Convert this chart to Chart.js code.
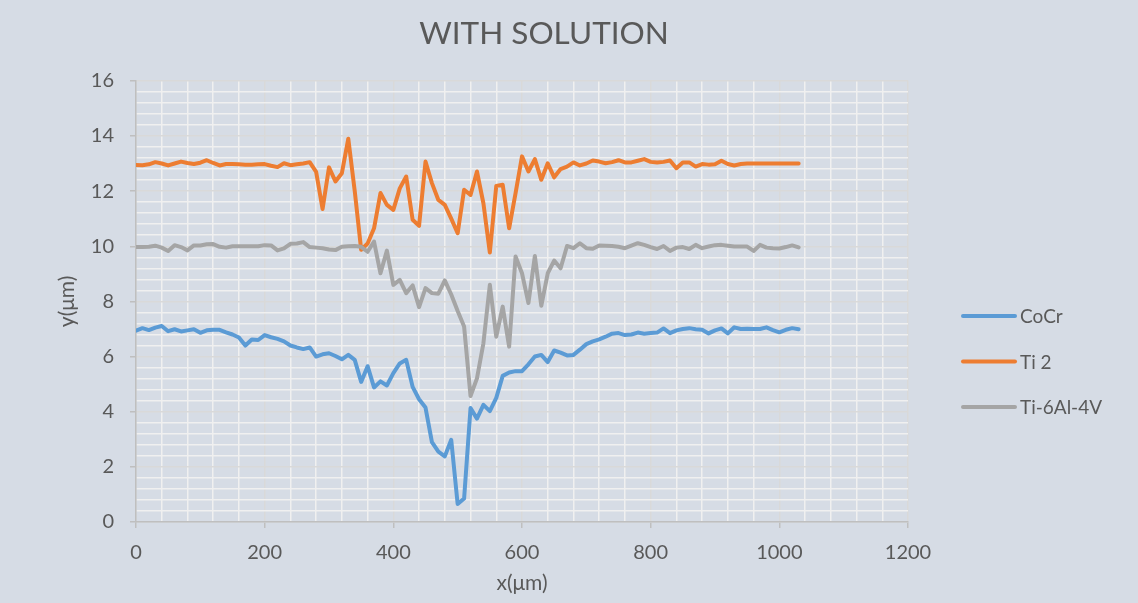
<!DOCTYPE html>
<html>
<head>
<meta charset="utf-8">
<script src="https://cdn.jsdelivr.net/npm/chart.js@4.4.1/dist/chart.umd.min.js"></script>
<style>
  html, body { margin: 0; padding: 0; background: #d6dce5; }
  #wrap { width: 1138px; height: 603px; }
</style>
</head>
<body>
<div id="wrap"><canvas id="profile" width="1138" height="603"></canvas></div>
<script>
// positions along the scan (µm)
const xPos = [0, 10, 20, 30, 40, 50, 60, 70, 80, 90, 100, 110, 120, 130, 140, 150, 160, 170, 180, 190,
  200, 210, 220, 230, 240, 250, 260, 270, 280, 290, 300, 310, 320, 330, 340, 350, 360, 370, 380, 390,
  400, 410, 420, 430, 440, 450, 460, 470, 480, 490, 500, 510, 520, 530, 540, 550, 560, 570, 580, 590,
  600, 610, 620, 630, 640, 650, 660, 670, 680, 690, 700, 710, 720, 730, 740, 750, 760, 770, 780, 790,
  800, 810, 820, 830, 840, 850, 860, 870, 880, 890, 900, 910, 920, 930, 940, 950, 960, 970, 980, 990,
  1000, 1010, 1020, 1030];

const cocr = [6.94, 7.03, 6.96, 7.05, 7.11, 6.92, 6.99, 6.91, 6.95, 6.99, 6.86, 6.95, 6.97, 6.97, 6.88, 6.80, 6.69, 6.40, 6.62, 6.60,
  6.78, 6.70, 6.64, 6.55, 6.40, 6.33, 6.27, 6.33, 6.00, 6.08, 6.12, 6.02, 5.90, 6.06, 5.88, 5.08, 5.65, 4.88, 5.10, 4.95,
  5.40, 5.75, 5.88, 4.90, 4.45, 4.15, 2.90, 2.55, 2.38, 2.98, 0.65, 0.85, 4.13, 3.75, 4.25, 4.02, 4.50, 5.30, 5.42, 5.47,
  5.47, 5.72, 6.00, 6.06, 5.80, 6.22, 6.14, 6.04, 6.06, 6.25, 6.45, 6.55, 6.62, 6.72, 6.83, 6.85, 6.78, 6.80, 6.87, 6.83,
  6.85, 6.87, 7.02, 6.85, 6.95, 7.00, 7.03, 6.99, 6.97, 6.84, 6.95, 7.02, 6.84, 7.06, 7.00, 7.01, 7.00, 7.00, 7.06, 6.96,
  6.88, 6.97, 7.03, 6.99];

const ti2 = [12.95, 12.94, 12.97, 13.05, 13.00, 12.93, 13.00, 13.07, 13.02, 12.98, 13.03, 13.12, 13.02, 12.93, 12.98, 12.98, 12.97, 12.96, 12.96, 12.97,
  12.98, 12.92, 12.87, 13.01, 12.94, 12.97, 13.00, 13.05, 12.70, 11.35, 12.86, 12.35, 12.65, 13.90, 12.00, 9.87, 10.10, 10.65, 11.93, 11.50,
  11.32, 12.10, 12.53, 10.96, 10.74, 13.07, 12.29, 11.68, 11.50, 11.00, 10.47, 12.05, 11.86, 12.71, 11.56, 9.77, 12.19, 12.23, 10.65, 11.93,
  13.26, 12.71, 13.16, 12.41, 13.01, 12.50, 12.80, 12.89, 13.04, 12.93, 13.00, 13.11, 13.07, 13.01, 13.05, 13.12, 13.04, 13.04, 13.10, 13.16,
  13.06, 13.04, 13.06, 13.11, 12.83, 13.04, 13.04, 12.89, 12.98, 12.96, 12.97, 13.10, 12.98, 12.93, 12.98, 13.00, 13.00, 13.00, 13.00, 13.00,
  13.00, 13.00, 13.00, 13.00];

const ti6al4v = [9.97, 9.97, 9.98, 10.02, 9.95, 9.83, 10.04, 9.97, 9.85, 10.03, 10.03, 10.07, 10.08, 9.98, 9.95, 10.00, 10.00, 10.00, 10.00, 10.00,
  10.04, 10.03, 9.85, 9.92, 10.09, 10.10, 10.15, 9.97, 9.95, 9.93, 9.88, 9.86, 9.98, 10.00, 10.01, 9.98, 9.80, 10.17, 9.02, 9.84,
  8.60, 8.78, 8.30, 8.58, 7.79, 8.48, 8.30, 8.28, 8.76, 8.25, 7.65, 7.09, 4.57, 5.21, 6.48, 8.60, 6.72, 7.81, 6.36, 9.63,
  9.02, 7.94, 9.65, 7.84, 9.02, 9.48, 9.20, 10.01, 9.93, 10.11, 9.93, 9.91, 10.03, 10.02, 10.01, 9.98, 9.93, 10.02, 10.11, 10.05,
  9.97, 9.90, 10.01, 9.83, 9.95, 9.97, 9.90, 10.05, 9.93, 9.99, 10.04, 10.05, 10.02, 9.99, 9.99, 9.99, 9.83, 10.05, 9.95, 9.93,
  9.92, 9.97, 10.03, 9.96];

const seriesNames = ['CoCr', 'Ti 2', 'Ti-6Al-4V'];
const seriesColors = ['#5b9bd5', '#ed7d31', '#a5a5a5'];

const xMax = 1200, xMajor = 200, xMinor = 40;
const yMax = 16, yMajor = 2, yMinor = 0.4;

const textColor = '#595959';
const fontFam = 'Lato, "Open Sans", sans-serif';

function isMajor(v, step) {
  return Math.abs(v / step - Math.round(v / step)) < 1e-6;
}

function points(ys) {
  return xPos.map((x, i) => ({ x: x, y: ys[i] }));
}

// legend drawn at the right, Excel style
const sideLegend = {
  id: 'sideLegend',
  afterDraw(chart) {
    const ctx = chart.ctx;
    ctx.save();
    ctx.font = '19px ' + fontFam;
    ctx.textBaseline = 'middle';
    chart.data.datasets.forEach((ds, i) => {
      const y = 316 + i * 45.5;
      ctx.strokeStyle = ds.borderColor;
      ctx.lineWidth = 4;
      ctx.lineCap = 'round';
      ctx.beginPath();
      ctx.moveTo(963, y);
      ctx.lineTo(1015, y);
      ctx.stroke();
      ctx.fillStyle = textColor;
      ctx.fillText(ds.label, 1020, y + 1);
    });
    ctx.restore();
  }
};

const ctx = document.getElementById('profile').getContext('2d');
new Chart(ctx, {
  type: 'line',
  data: {
    datasets: [
      { label: seriesNames[0], data: points(cocr), borderColor: seriesColors[0], order: 2 },
      { label: seriesNames[1], data: points(ti2), borderColor: seriesColors[1], order: 1 },
      { label: seriesNames[2], data: points(ti6al4v), borderColor: seriesColors[2], order: 0 }
    ]
  },
  options: {
    responsive: false,
    animation: false,
    layout: { padding: { left: 0, right: 50, top: 0, bottom: 0 } },
    elements: {
      point: { radius: 0 },
      line: { borderWidth: 4, tension: 0, borderJoinStyle: 'round', borderCapStyle: 'round', fill: false }
    },
    plugins: {
      legend: { display: false },
      tooltip: { enabled: false },
      title: {
        display: true,
        text: 'WITH SOLUTION',
        color: textColor,
        font: { family: fontFam, size: 31.5, weight: '400' },
        padding: { top: 15, bottom: 28 }
      }
    },
    scales: {
      x: {
        type: 'linear',
        min: 0,
        max: xMax,
        afterFit(scale) { scale.height = 81; },
        border: { color: '#bfbfbf', width: 1.5 },
        grid: {
          color: c => isMajor(c.tick.value, xMajor) ? '#d9d9d9' : '#f0f0f0',
          lineWidth: 1.5,
          tickColor: c => isMajor(c.tick.value, xMajor) ? '#bfbfbf' : 'rgba(0,0,0,0)',
          tickLength: 6
        },
        ticks: {
          stepSize: xMinor,
          autoSkip: false,
          maxRotation: 0,
          padding: 13,
          color: textColor,
          font: { family: fontFam, size: 20 },
          callback: v => isMajor(v, xMajor) ? String(v) : ''
        },
        title: {
          display: true,
          text: 'x(μm)',
          color: textColor,
          font: { family: fontFam, size: 21 },
          padding: { top: 0, bottom: 7 }
        }
      },
      y: {
        min: 0,
        max: yMax,
        afterFit(scale) { scale.width = 136; },
        border: { color: '#bfbfbf', width: 1.5 },
        grid: {
          color: c => isMajor(c.tick.value, yMajor) ? '#d9d9d9' : '#f0f0f0',
          lineWidth: 1.5,
          tickColor: c => isMajor(c.tick.value, yMajor) ? '#bfbfbf' : 'rgba(0,0,0,0)',
          tickLength: 6
        },
        ticks: {
          stepSize: yMinor,
          autoSkip: false,
          padding: 16,
          color: textColor,
          font: { family: fontFam, size: 20 },
          callback: v => isMajor(v, yMajor) ? String(Math.round(v)) : ''
        },
        title: {
          display: true,
          text: 'y(μm)',
          color: textColor,
          font: { family: fontFam, size: 21 },
          padding: { top: 55, bottom: 0 }
        }
      },
      // empty right-hand column that holds the legend
      side: {
        type: 'linear',
        position: 'right',
        afterFit(scale) { scale.width = 180; },
        grid: { display: false },
        border: { display: false },
        ticks: { display: false }
      }
    }
  },
  plugins: [sideLegend]
});
</script>
</body>
</html>
